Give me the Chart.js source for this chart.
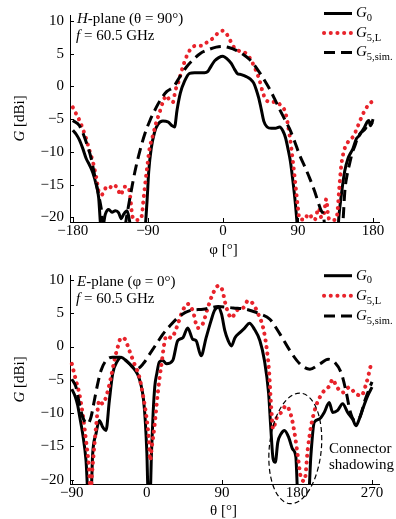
<!DOCTYPE html>
<html>
<head>
<meta charset="utf-8">
<script src="https://cdn.jsdelivr.net/npm/chart.js@4.4.1/dist/chart.umd.min.js"></script>
<style>
  html, body { margin: 0; padding: 0; background: #fff; }
  #wrap { position: relative; width: 396px; height: 519px; }
  canvas { position: absolute; left: 0; }
  #hplane { top: 0; }
  #eplane { top: 260px; }
</style>
</head>
<body>
<div id="wrap">
  <canvas id="hplane" width="396" height="260" style="width:396px;height:260px"></canvas>
  <canvas id="eplane" width="396" height="259" style="width:396px;height:259px"></canvas>
</div>
<script>
// ---------- H-plane (theta = 90 deg), gain in dBi versus phi ----------
const hPhiG0 = [-180,-176,-172,-168,-164,-160,-156,-152,-149,-146.5,-145,-141,-137,-133,-129,-125,-122,-119,-115,-112,-110,
  -94,-91,-89,-86,-82,-78,-72,-66,-61,-58,-55,-51,-46,-40,-34,-28,-22,-18,-15,-10,-5,0,5,10,14,17,22,28,33,37,40,43,46,49,53,58,63,68,72,75,78,81,84,87,89,90.5,
  137.5,139,142,146,150,153,156,160,163,166,170,173,175,177,178,180];
const hG0 = [-6.7,-7.3,-8.2,-9.5,-11,-12,-13.2,-15,-17,-21.5,-22,-19.5,-18.8,-19.2,-19,-19.3,-20.2,-19.5,-19,-20.5,-22,
  -22,-17.5,-13,-9.5,-7,-5.8,-5.3,-5.4,-6,-6.2,-3.6,-1,0.8,2,2.1,2.1,2.1,2.3,2.9,3.9,4.4,4.6,4.2,3.5,2.6,2,1.8,1.5,1.1,0.5,-0.5,-1.8,-3.5,-5.3,-6.2,-6.4,-6.4,-6.2,-6.8,-7.8,-9.5,-11.5,-14.5,-18,-21,-23,
  -23,-20,-16.6,-13,-11,-10.2,-9.5,-8,-7.6,-7,-6.2,-5.4,-5.2,-6,-5.6,-5.5];

const hPhiL = [-180,-176,-172,-168,-164,-160,-156,-152,-148,-145,-142,-139,-136,-132,-128,-125,-123,-121,-118,-115,-113,-111,-109,-107,-103,-99,-97,-95.5,-93.5,-91,
  -88,-84,-80,-76,-72,-68,-64,-60,-57,-53.5,-49.5,-43.5,-37.5,-31.5,-25.5,-19.5,-11.5,-5.5,0,6,12,18,26,32,38,44,48,52,58,64,70,75,80,84,87.5,90,92,
  94,98,101,104,107,110,113,115,118,121,124,126,128,131,134,137,139.5,142,146,150,154,157,162,168,174,178,180];
const hL = [-3.2,-4.2,-5.2,-6.5,-8,-9.8,-11.5,-13.8,-16.4,-16.5,-15.8,-15.3,-15.5,-15,-15.3,-16,-16.6,-16.2,-15.3,-15.3,-15.5,-17,-19.5,-20.3,-20.4,-20.3,-19.5,-17.6,-15.2,-12.5,
  -9.5,-7.5,-5.5,-4,-2.4,-1.4,-2.1,-2.4,-0.6,0.6,2.4,4.6,5.9,6.2,6.2,6.7,7.4,8.2,8.5,7.7,6.2,5.5,5.2,4.4,2.9,0.9,-1,-2.1,-2.4,-2.4,-3,-4,-7.5,-11.5,-15.6,-18.6,-20.3,
  -20.3,-20.4,-19.7,-19.5,-20.2,-20.4,-19.2,-18.6,-20,-19.6,-17.2,-19.5,-20.4,-20.4,-20.4,-19.6,-15.6,-12,-9.5,-8.5,-8,-7.5,-6,-4.2,-2.9,-2.4,-2.2];

const hPhiS = [-180,-172,-164,-158,-154,-150,-146,-143,-118,-115,-111.5,-105.5,-99.5,-93.5,-87.5,-81.5,-75.5,-67.5,-59.5,-51.5,-43.5,-35.5,-27.5,-15.5,-8,0,8,16,24,32,38,44,50,56,62,68,74,80,86,92,98,104,110,114,118,120.5,122.5,
  143,146.5,149,152.5,155,158.5,161,164.5,167,170.5,173,176.5,178,180];
const hS = [-5.2,-6,-8.5,-11,-13.5,-16,-18.6,-21.5,-21.5,-19.5,-17,-13,-9.8,-7.2,-5.2,-3.6,-2.2,-0.8,-0.1,1.5,3,4.1,5,5.7,6,6.1,5.9,5.5,4.9,4.1,3.2,2.1,0.9,-0.4,-1.9,-3.5,-5,-6.5,-8.4,-10.5,-12.2,-14,-16,-17.6,-19,-19.6,-21.5,
  -21.5,-15.6,-13.5,-11.5,-10.2,-9,-8,-7.2,-6.9,-6.5,-6,-5.5,-5.8,-5];

// ---------- E-plane (phi = 0 deg), gain in dBi versus theta ----------
const eThG0 = [-90,-86,-83,-80.5,-77,-73,-70.5,-67,-65,-61,-57,-55,-53,-49,-45,-41,-35,-31,-25,-17,-11,-7,-4,-2,0,1.5,4,5.5,7.5,9.5,12,15,19,23.5,31,37,43,49,55,59,65,71,77,81,85.5,89.5,93.5,97.5,101.5,105.5,111.5,117.5,123,129,135.5,141,146,148.7,151.4,154,157,161,165,170,174.7,178.7,181,
  194,196.7,200.7,206.7,212.7,218.7,222.8,228.8,234.8,240.8,246.8,250.8,254.7,258.8,264.8,270];
const eG0 = [-6.4,-7.5,-8.8,-10.6,-13.1,-17.1,-22,-22,-16.1,-13.1,-11.1,-11.5,-12.1,-12.6,-8.1,-4.1,-2.1,-1.6,-2.1,-3.1,-4.2,-5.8,-8,-11,-16,-22,-22,-16,-10,-6,-4,-2.3,-2.1,-2.6,-2.1,0.9,1.3,2.8,1.1,0.9,-1.4,1.3,3.9,5.4,5.9,4.9,2.4,0.9,0.1,1.3,2.1,2.8,3.5,2.6,0.9,-2.1,-7,-12.4,-16.9,-17.4,-14.4,-13.1,-12.6,-13.6,-15.4,-16.6,-22,
  -22,-16.4,-11.4,-10.9,-9.9,-8.4,-9.9,-9.6,-8.6,-9.9,-10.9,-11.9,-10.9,-9.4,-7.4,-6.1];

const eThL = [-90,-85,-81,-77,-73,-69.5,-67.5,-66,-64.5,-61,-57,-53,-49,-43,-39,-35,-31,-27,-21,-15,-9,-5,-0.5,2.5,4,6,9,13,17,23.5,29.5,35.5,43,49,55,61,67,73,79,85.5,89.5,95.5,101.5,107.5,115.5,121.5,127.5,133.5,139.5,143.5,146.5,149,151.5,
  155,161,167,173,177,181,185,189,193,197,203,211,219,223,227,235,243,249,257,263,269];
const eL = [-2.6,-5.1,-7.1,-10.1,-14.1,-18.1,-22,-19.5,-17.1,-12.1,-8.1,-8.6,-7.6,-4.6,-2.1,-0.1,1.3,1.2,-0.6,-2.6,-4.6,-7.1,-10.6,-14.1,-17.1,-15,-12.1,-7.1,-3.1,1.6,1.3,2.8,5.4,6.4,5.4,2.8,3.4,5.8,7.9,9.1,8.8,5.8,4.3,5.4,5.8,6.9,6.4,4.9,2.8,-0.1,-3.6,-8.9,-12.4,
  -10.9,-9.9,-8.9,-10.4,-12.9,-16.4,-19.8,-20.2,-15.4,-11.9,-8.9,-6.9,-5.9,-4.9,-5.9,-6.9,-6.1,-6.9,-7.4,-5.6,-2.6];

const eThS = [-90,-85,-81,-77,-71,-67,-63,-59,-55,-49,-41,-33,-25,-18.5,-12.5,-4.5,3.5,11.5,19.5,27.5,39.5,51.5,67.5,85.5,103.5,119.5,135.5,147.5,159.5,171.5,183.5,195.5,207.5,217.5,225.5,233.5,239.5,243.5,249.5,255.5,261.5,267.5,270];
const eS = [-4.9,-6.1,-8.6,-10.6,-11.6,-10.6,-8.1,-5.6,-3.6,-2.1,-1.6,-1.6,-2.1,-2.9,-3.4,-2.6,-1.1,0.4,1.9,3.1,4.6,5.4,5.6,6,5.8,5.6,4.9,4.1,1.9,-0.6,-2.6,-3.4,-2.6,-1.9,-2.4,-4.1,-7.1,-9.6,-11.1,-10.6,-8.1,-6.1,-5.3];

// ---------- tick labels ----------
const hPhiTicks = [-180, -90, 0, 90, 180];
const eThTicks = [-90, 0, 90, 180, 270];
const gainTicks = [-20, -15, -10, -5, 0, 5, 10];

// series names: base letter plus subscript
const seriesNames = [['G', '0'], ['G', '5,L'], ['G', '5,sim.']];

const SERIF = '"Liberation Serif","Times New Roman",serif';
const RED = '#e8232b';
Chart.defaults.font.family = SERIF;
Chart.defaults.font.size = 15;
Chart.defaults.color = '#000';

const fmt = v => (v < 0 ? '\u2212' + Math.abs(v) : String(v));
const pts = (xs, ys) => xs.map((x, i) => ({ x, y: ys[i] }));

const lineStyles = [
  { borderColor: '#000', borderWidth: 3, borderDash: [], borderCapStyle: 'butt', order: 3 },
  { borderColor: RED, borderWidth: 4, borderDash: [0.1, 6.6], borderCapStyle: 'round', order: 2 },
  { borderColor: '#000', borderWidth: 3, borderDash: [11, 6], borderCapStyle: 'butt', order: 1 }
];

function makeDatasets(series) {
  return series.map((s, i) => Object.assign({
    data: pts(s[0], s[1]),
    pointRadius: 0,
    fill: false,
    cubicInterpolationMode: 'monotone',
    borderJoinStyle: 'round',
    clip: { left: 4, top: 4, right: 4, bottom: 1 }
  }, lineStyles[i]));
}

// mixed-style text: parts = [text, style] with style '' roman, 'i' italic, 's' subscript
function rich(ctx, parts, x, y, align) {
  const fonts = { '': '15px ' + SERIF, i: 'italic 15px ' + SERIF, s: '10.5px ' + SERIF };
  let w = 0;
  parts.forEach(([t, s]) => { ctx.font = fonts[s]; w += ctx.measureText(t).width; });
  let cx = align === 'center' ? x - w / 2 : x;
  ctx.textAlign = 'left';
  ctx.textBaseline = 'middle';
  parts.forEach(([t, s]) => {
    ctx.font = fonts[s];
    ctx.fillText(t, cx, s === 's' ? y + 5 : y);
    cx += ctx.measureText(t).width;
  });
}

const decor = {
  id: 'decor',
  afterDatasetsDraw(chart, args, o) {
    const { ctx, chartArea: a, scales: { x, y } } = chart;
    ctx.save();
    ctx.fillStyle = '#000';
    ctx.strokeStyle = '#000';
    ctx.lineWidth = 1;
    ctx.setLineDash([]);
    // inward tick marks
    x.ticks.forEach(t => {
      const px = Math.round(x.getPixelForValue(t.value)) + 0.5;
      ctx.beginPath(); ctx.moveTo(px, a.bottom); ctx.lineTo(px, a.bottom - 4); ctx.stroke();
    });
    y.ticks.forEach(t => {
      const py = Math.round(y.getPixelForValue(t.value)) + 0.5;
      ctx.beginPath(); ctx.moveTo(a.left, py); ctx.lineTo(a.left + 4, py); ctx.stroke();
    });

    // axis titles
    ctx.save();
    ctx.translate(20, (a.top + a.bottom) / 2);
    ctx.rotate(-Math.PI / 2);
    rich(ctx, [['G', 'i'], [' [dBi]', '']], 0, 0, 'center');
    ctx.restore();
    rich(ctx, [[o.xTitle, '']], (a.left + a.right) / 2 - 1, o.xTitleY, 'center');

    // plane / frequency note
    rich(ctx, o.planeText, 77, o.noteY[0], 'left');
    rich(ctx, [['f', 'i'], [' = 60.5 GHz', '']], 76, o.noteY[1], 'left');

    // legend
    chart.data.datasets.forEach((ds, i) => {
      const ly = o.legendY[i];
      ctx.save();
      ctx.strokeStyle = ds.borderColor;
      ctx.lineWidth = ds.borderWidth;
      ctx.lineCap = ds.borderCapStyle;
      ctx.setLineDash(ds.borderDash);
      ctx.beginPath(); ctx.moveTo(324, ly); ctx.lineTo(352, ly); ctx.stroke();
      ctx.restore();
      rich(ctx, [[seriesNames[i][0], 'i'], [seriesNames[i][1], 's']], 356, ly, 'left');
    });

    // connector shadowing region
    if (o.ellipse) {
      const e = o.ellipse;
      ctx.save();
      ctx.lineWidth = 1.2;
      ctx.setLineDash([5, 3]);
      ctx.beginPath();
      ctx.ellipse(x.getPixelForValue(e.x), y.getPixelForValue(e.y), e.rx, e.ry, e.rot, 0, Math.PI * 2);
      ctx.stroke();
      ctx.restore();
      e.label.forEach(([t, ty]) => rich(ctx, [[t, '']], e.labelX, ty, 'left'));
    }
    ctx.restore();
  }
};

function makeChart(id, cfg) {
  return new Chart(document.getElementById(id), {
    type: 'line',
    data: { datasets: makeDatasets(cfg.series) },
    options: {
      responsive: false,
      animation: false,
      events: [],
      layout: { padding: { top: cfg.top, right: 17, bottom: 0, left: 0 } },
      plugins: { legend: { display: false }, tooltip: { enabled: false }, decor: cfg.decor },
      scales: {
        x: {
          type: 'linear', min: cfg.xMin, max: cfg.xMax,
          afterBuildTicks: s => { s.ticks = cfg.xTicks.map(v => ({ value: v })); },
          afterFit: s => { s.height = cfg.xAxisH; },
          grid: { display: true, drawOnChartArea: false, drawTicks: false },
          border: { display: true, color: '#000', width: 1 },
          ticks: { autoSkip: false, maxRotation: 0, padding: 0, font: { size: 15 }, callback: fmt }
        },
        y: {
          type: 'linear', min: cfg.yMin, max: cfg.yMax,
          afterBuildTicks: s => { s.ticks = gainTicks.map(v => ({ value: v })); },
          afterFit: s => { s.width = 70; },
          grid: { display: true, drawOnChartArea: false, drawTicks: false },
          border: { display: true, color: '#000', width: 1 },
          ticks: { padding: 6, font: { size: 15 }, callback: fmt }
        }
      }
    },
    plugins: [decor]
  });
}

makeChart('hplane', {
  series: [[hPhiG0, hG0], [hPhiL, hL], [hPhiS, hS]],
  xMin: -183.4, xMax: 187.2, yMin: -20.7, yMax: 10.9,
  xTicks: hPhiTicks, top: 13, xAxisH: 38,
  decor: {
    xTitle: '\u03c6 [\u00b0]', xTitleY: 250,
    planeText: [['H', 'i'], ['-plane (\u03b8 = 90\u00b0)', '']],
    noteY: [19, 36.5],
    legendY: [13.5, 33, 52.5]
  }
});

makeChart('eplane', {
  series: [[eThG0, eG0], [eThL, eL], [eThS, eS]],
  xMin: -92.2, xMax: 278.4, yMin: -20.65, yMax: 10.75,
  xTicks: eThTicks, top: 15, xAxisH: 35,
  decor: {
    xTitle: '\u03b8 [\u00b0]', xTitleY: 251.5,
    planeText: [['E', 'i'], ['-plane (\u03c6 = 0\u00b0)', '']],
    noteY: [22.5, 39],
    legendY: [15.7, 35.8, 56],
    ellipse: {
      x: 178, y: -15.3, rx: 26, ry: 55.5, rot: 0.1, labelX: 329,
      label: [['Connector', 189], ['shadowing', 205.5]]
    }
  }
});
</script>
</body>
</html>
